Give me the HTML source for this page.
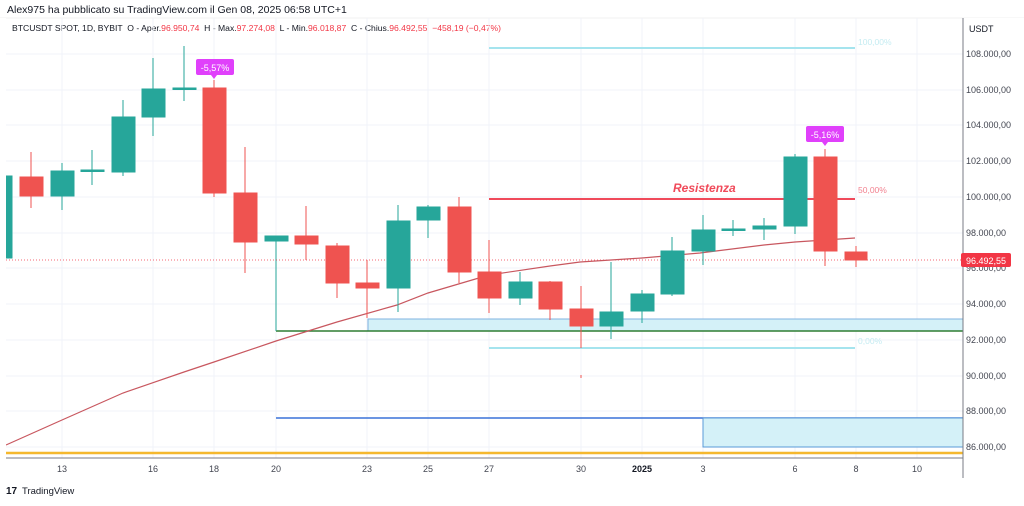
<!DOCTYPE html>
<html><head><meta charset="utf-8"><style>
body{margin:0;background:#fff;width:1024px;height:501px;overflow:hidden;font-family:"Liberation Sans",sans-serif}
</style></head><body>
<svg width="1024" height="501" viewBox="0 0 1024 501" xmlns="http://www.w3.org/2000/svg" font-family="Liberation Sans, sans-serif">
<rect width="1024" height="501" fill="#fff"/>
<text x="7" y="13" font-size="10.5" fill="#131722">Alex975 ha pubblicato su TradingView.com il Gen 08, 2025 06:58 UTC+1</text>
<line x1="0" y1="18" x2="1024" y2="18" stroke="#f0f0f0"/>
<text x="12" y="31" font-size="8.6" fill="#131722" xml:space="preserve">BTCUSDT SPOT, 1D, BYBIT  O - Aper.<tspan fill="#f23645">96.950,74</tspan>  H - Max.<tspan fill="#f23645">97.274,08</tspan>  L - Min.<tspan fill="#f23645">96.018,87</tspan>  C - Chius.<tspan fill="#f23645">96.492,55  −458,19 (−0,47%)</tspan></text>
<!-- grid -->
<g stroke="#f0f3fa" stroke-width="1">
<line x1="6" y1="54" x2="963" y2="54"/><line x1="6" y1="90" x2="963" y2="90"/><line x1="6" y1="125" x2="963" y2="125"/><line x1="6" y1="161" x2="963" y2="161"/><line x1="6" y1="197" x2="963" y2="197"/><line x1="6" y1="233" x2="963" y2="233"/><line x1="6" y1="268" x2="963" y2="268"/><line x1="6" y1="304" x2="963" y2="304"/><line x1="6" y1="340" x2="963" y2="340"/><line x1="6" y1="376" x2="963" y2="376"/><line x1="6" y1="411" x2="963" y2="411"/><line x1="6" y1="447" x2="963" y2="447"/>
<line x1="62" y1="18" x2="62" y2="458"/><line x1="153" y1="18" x2="153" y2="458"/><line x1="214" y1="18" x2="214" y2="458"/><line x1="276" y1="18" x2="276" y2="458"/><line x1="367" y1="18" x2="367" y2="458"/><line x1="428" y1="18" x2="428" y2="458"/><line x1="489" y1="18" x2="489" y2="458"/><line x1="581" y1="18" x2="581" y2="458"/><line x1="642" y1="18" x2="642" y2="458"/><line x1="703" y1="18" x2="703" y2="458"/><line x1="795" y1="18" x2="795" y2="458"/><line x1="856" y1="18" x2="856" y2="458"/><line x1="917" y1="18" x2="917" y2="458"/>
</g>
<!-- drawings -->
<line x1="489" y1="48" x2="855" y2="48" stroke="#a5e4ee" stroke-width="2"/>
<text x="858" y="45" font-size="8.5" fill="#c5ecf2">100,00%</text>
<line x1="489" y1="199" x2="855" y2="199" stroke="#f04a5a" stroke-width="2"/>
<text x="858" y="193" font-size="8.5" fill="#f28290">50,00%</text>
<text x="673" y="192" font-size="12" font-weight="bold" font-style="italic" fill="#f04a5a">Resistenza</text>
<line x1="489" y1="348" x2="855" y2="348" stroke="#a5e4ee" stroke-width="2"/>
<text x="858" y="344" font-size="8.5" fill="#c5ecf2">0,00%</text>
<rect x="368" y="319" width="595" height="12" fill="#d4f1f8" stroke="#7fb3e0" stroke-width="1"/>
<line x1="276" y1="331" x2="963" y2="331" stroke="#2e7d32" stroke-width="1.5"/>
<line x1="276" y1="236" x2="276" y2="331" stroke="#26a69a" stroke-width="1"/>
<line x1="276" y1="418" x2="963" y2="418" stroke="#3a72d8" stroke-width="1.5"/>
<rect x="703" y="418" width="260" height="29" fill="#d4f1f8" stroke="#5a9ad8" stroke-width="1"/>
<line x1="6" y1="453" x2="963" y2="453" stroke="#f5b82e" stroke-width="2.5"/>
<line x1="6" y1="260" x2="963" y2="260" stroke="#f23645" stroke-width="0.7" stroke-dasharray="1 2"/>
<!-- MA -->
<polyline fill="none" stroke="#c8575f" stroke-width="1.2" points="6,445 62,420 123,393 184,372 214,362 276,341 337,322 397,305 428,293 489,275 550,266 580,262 642,258 700,253 764,245 795,242 825,240 855,238"/>
<!-- candles -->
<g stroke-width="1">
<g stroke="#26a69a" fill="#26a69a"><rect x="0" y="176" width="12" height="82"/></g>
<g stroke="#ef5350" fill="#ef5350"><line x1="31" y1="152" x2="31" y2="208"/><rect x="20" y="177" width="23" height="19"/></g>
<g stroke="#26a69a" fill="#26a69a"><line x1="62" y1="163" x2="62" y2="210"/><rect x="51" y="171" width="23" height="25"/></g>
<g stroke="#26a69a" fill="#26a69a"><line x1="92" y1="150" x2="92" y2="185"/><rect x="81" y="170" width="23" height="1.5"/></g>
<g stroke="#26a69a" fill="#26a69a"><line x1="123" y1="100" x2="123" y2="176"/><rect x="112" y="117" width="23" height="55"/></g>
<g stroke="#26a69a" fill="#26a69a"><line x1="153" y1="58" x2="153" y2="136"/><rect x="142" y="89" width="23" height="28"/></g>
<g stroke="#26a69a" fill="#26a69a"><line x1="184" y1="46" x2="184" y2="101"/><rect x="173" y="88" width="23" height="1.5"/></g>
<g stroke="#ef5350" fill="#ef5350"><line x1="214" y1="80" x2="214" y2="197"/><rect x="203" y="88" width="23" height="105"/></g>
<g stroke="#ef5350" fill="#ef5350"><line x1="245" y1="147" x2="245" y2="273"/><rect x="234" y="193" width="23" height="49"/></g>
<g stroke="#26a69a" fill="#26a69a"><rect x="265" y="236" width="23" height="5"/></g>
<g stroke="#ef5350" fill="#ef5350"><line x1="306" y1="206" x2="306" y2="260"/><rect x="295" y="236" width="23" height="8"/></g>
<g stroke="#ef5350" fill="#ef5350"><line x1="337" y1="243" x2="337" y2="298"/><rect x="326" y="246" width="23" height="37"/></g>
<g stroke="#ef5350" fill="#ef5350"><line x1="367" y1="260" x2="367" y2="318"/><rect x="356" y="283" width="23" height="5"/></g>
<g stroke="#26a69a" fill="#26a69a"><line x1="398" y1="205" x2="398" y2="312"/><rect x="387" y="221" width="23" height="67"/></g>
<g stroke="#26a69a" fill="#26a69a"><line x1="428" y1="205" x2="428" y2="238"/><rect x="417" y="207" width="23" height="13"/></g>
<g stroke="#ef5350" fill="#ef5350"><line x1="459" y1="197" x2="459" y2="283"/><rect x="448" y="207" width="23" height="65"/></g>
<g stroke="#ef5350" fill="#ef5350"><line x1="489" y1="240" x2="489" y2="313"/><rect x="478" y="272" width="23" height="26"/></g>
<g stroke="#26a69a" fill="#26a69a"><line x1="520" y1="272" x2="520" y2="305"/><rect x="509" y="282" width="23" height="16"/></g>
<g stroke="#ef5350" fill="#ef5350"><line x1="550" y1="281" x2="550" y2="320"/><rect x="539" y="282" width="23" height="27"/></g>
<g stroke="#ef5350" fill="#ef5350"><line x1="581" y1="286" x2="581" y2="348"/><rect x="570" y="309" width="23" height="17"/><line x1="581" y1="375" x2="581" y2="378"/></g>
<g stroke="#26a69a" fill="#26a69a"><line x1="611" y1="262" x2="611" y2="339"/><rect x="600" y="312" width="23" height="14"/></g>
<g stroke="#26a69a" fill="#26a69a"><line x1="642" y1="290" x2="642" y2="323"/><rect x="631" y="294" width="23" height="17"/></g>
<g stroke="#26a69a" fill="#26a69a"><line x1="672" y1="237" x2="672" y2="296"/><rect x="661" y="251" width="23" height="43"/></g>
<g stroke="#26a69a" fill="#26a69a"><line x1="703" y1="215" x2="703" y2="265"/><rect x="692" y="230" width="23" height="21"/></g>
<g stroke="#26a69a" fill="#26a69a"><line x1="733" y1="220" x2="733" y2="236"/><rect x="722" y="229" width="23" height="1.5"/></g>
<g stroke="#26a69a" fill="#26a69a"><line x1="764" y1="218" x2="764" y2="240"/><rect x="753" y="226" width="23" height="3"/></g>
<g stroke="#26a69a" fill="#26a69a"><line x1="795" y1="154" x2="795" y2="234"/><rect x="784" y="157" width="23" height="69"/></g>
<g stroke="#ef5350" fill="#ef5350"><line x1="825" y1="149" x2="825" y2="266"/><rect x="814" y="157" width="23" height="94"/></g>
<g stroke="#ef5350" fill="#ef5350"><line x1="856" y1="246" x2="856" y2="267"/><rect x="845" y="252" width="22" height="8"/></g>
</g>
<!-- labels -->
<rect x="196" y="59" width="38" height="16" rx="2" fill="#e040fb"/><polygon points="211,75 217,75 214,79" fill="#e040fb"/>
<text x="215" y="71" font-size="9" fill="#fff" text-anchor="middle">-5,57%</text>
<rect x="806" y="126" width="38" height="16" rx="2" fill="#e040fb"/><polygon points="822,142 828,142 825,146" fill="#e040fb"/>
<text x="825" y="138" font-size="9" fill="#fff" text-anchor="middle">-5,16%</text>
<!-- axes -->
<rect x="0" y="18" width="6" height="440" fill="#fff"/>
<line x1="963" y1="18" x2="963" y2="478" stroke="#787b86" stroke-width="1"/>
<line x1="6" y1="458" x2="963" y2="458" stroke="#787b86" stroke-width="1"/>
<rect x="964" y="18" width="60" height="460" fill="#fff"/>
<g font-size="9" fill="#131722">
<text x="969" y="32">USDT</text>
</g>
<g font-size="9" fill="#434651" text-anchor="start">
<text x="966" y="57">108.000,00</text><text x="966" y="93">106.000,00</text><text x="966" y="128">104.000,00</text><text x="966" y="164">102.000,00</text><text x="966" y="200">100.000,00</text><text x="966" y="236">98.000,00</text><text x="966" y="271">96.000,00</text><text x="966" y="307">94.000,00</text><text x="966" y="343">92.000,00</text><text x="966" y="379">90.000,00</text><text x="966" y="414">88.000,00</text><text x="966" y="450">86.000,00</text>
</g>
<rect x="961" y="253" width="50" height="14" rx="2" fill="#f23645"/>
<text x="966" y="264" font-size="9" fill="#fff">96.492,55</text>
<g font-size="9" fill="#434651" text-anchor="middle">
<text x="62" y="472">13</text><text x="153" y="472">16</text><text x="214" y="472">18</text><text x="276" y="472">20</text><text x="367" y="472">23</text><text x="428" y="472">25</text><text x="489" y="472">27</text><text x="581" y="472">30</text><text x="642" y="472" font-weight="bold" fill="#131722">2025</text><text x="703" y="472">3</text><text x="795" y="472">6</text><text x="856" y="472">8</text><text x="917" y="472">10</text>
</g>
<text x="6" y="494" font-size="10" font-weight="bold" fill="#131722">17</text>
<text x="22" y="494" font-size="9.5" fill="#131722">TradingView</text>
</svg>
</body></html>
